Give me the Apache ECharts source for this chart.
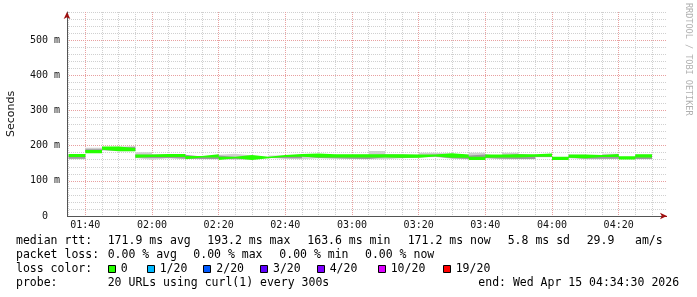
<!DOCTYPE html>
<html><head><meta charset="utf-8">
<script src="https://cdn.jsdelivr.net/npm/echarts@6/dist/echarts.min.js"></script>
<style>html,body{margin:0;padding:0;background:#fff}#c{width:697px;height:297px}</style>
</head><body><div id="c"></div>
<script>
// ---- data ----
const axisStart = '01:34:30';
const axisEnd = '04:34:30';
const firstInterval = '01:35:00';
const stepSeconds = 300;
const xTickLabels = ['01:40','02:00','02:20','02:40','03:00','03:20','03:40','04:00','04:20'];
const yTickLabels = ['0\u00a0\u00a0','100 m','200 m','300 m','400 m','500 m'];
const medianRtt = [172,183,193.2,189,170,172,172,166,171,164,169,163.6,169,172,173,171,171,171,171,171,170,170,174,170,164,170,171,171,173,164,170,169,172,165,171.2];
const smokeLo  = [161,180,186,184,165,160,164,163,161,161,161,161,165,163,161,164,163,162,161,161,164,166,168,163,161,164,161,161,167,161,164,161,161,163,161];
const smokeHi  = [176,194,197,199,181,175,175,169,174,177,172,166,172,175,175,174,174,175,185,175,174,180,177,174,180,172,180,174,177,167,174,171,177,167,174];
const coreLo   = [163,182,188,186,166,165,165,163,162,162,161,161,166,164,170,165,164,163,162,167,165,167,169,164,162,165,163,162,168,161,166,163,163,163,162];
const coreHi   = [172,190,194,196,174,174,174,169,172,168,170,166,170,173,174,173,172,173,175,174,173,175,176,172,175,171,176,173,176,167,173,170,175,167,173];
const lossLabels = ['0','1/20','2/20','3/20','4/20','10/20','19/20'];
const lossColors = ['#26ff00','#00b8ff','#0059ff','#5e00ff','#7e00ff','#dd00ff','#ff0000'];
const medianLine = ['median rtt:','171.9 ms avg','193.2 ms max','163.6 ms min','171.2 ms now','5.8 ms sd','29.9','am/s'];
const lossLine = ['packet loss:','0.00 % avg','0.00 % max','0.00 % min','0.00 % now'];
const probeLine = ['probe:','20 URLs using curl(1) every 300s'];
const endLabel = 'end: Wed Apr 15 04:34:30 2026';
const watermark = 'RRDTOOL / TOBI OETIKER';

// ---- helpers ----
const toSec = s => { const p = String(s).split(':').map(Number); return p[0]*3600 + p[1]*60 + (p[2]||0); };
const pad = n => String(n).padStart(2,'0');
const fmt = s => pad(Math.floor(s/3600)) + ':' + pad(Math.floor(s/60)%60) + ':' + pad(s%60);
const startSec = toSec(axisStart), endSec = toSec(axisEnd), firstSec = toSec(firstInterval);
const SLOT = 30;
const cats = [];
for (let s = startSec; s <= endSec; s += SLOT) cats.push(fmt(s));
const lastCat = cats.length - 1;
function stepData(vals) {
  const pts = vals.map((v, k) => [Math.max(0, (firstSec + k*stepSeconds - startSec)/SLOT), v]);
  pts.push([(firstSec + vals.length*stepSeconds - startSec)/SLOT, vals[vals.length-1]]);
  return pts;
}
const diff = (a, b) => a.map((v, i) => v - b[i]);
const BAND_HALF = 4.6; // half thickness of the median band (style)
const medLo = medianRtt.map(v => v - BAND_HALF);
const medW = medianRtt.map(() => 2*BAND_HALF);

const mono = '"DejaVu Sans Mono", monospace';
function band(stack, vals, color) {
  return {type:'line', stack, step:'end', symbol:'none', silent:true, data: stepData(vals),
    lineStyle:{width:0, opacity:0}, areaStyle: color ? {color, opacity:1} : undefined, z: 2};
}
const catSec = (i) => startSec + i*SLOT;
const is5 = (i, v) => catSec(i) % 300 === 0 && catSec(i) % 1200 !== 0;
const is20 = (i, v) => catSec(i) % 1200 === 0;

const chart = echarts.init(document.getElementById('c'), null, {renderer:'canvas'});
const graphics = [];
const TXT = {font:'11.5px '+mono, fill:'#000', verticalAlign:'middle', textVerticalAlign:'middle'};
const col1 = [16,107.7,207.3,307.3,407.7,507.7,586.7,635];
medianLine.forEach((t,i)=>graphics.push({type:'text', x:col1[i], y:241, style:Object.assign({text:t}, TXT)}));
const col2 = [16,107.7,193.3,279.3,365];
lossLine.forEach((t,i)=>graphics.push({type:'text', x:col2[i], y:255.5, style:Object.assign({text:t}, TXT)}));
graphics.push({type:'text', x:16, y:269, style:Object.assign({text:'loss color:'}, TXT)});
const boxX = [107.7,146.7,203.3,260,316.7,377.7,442.7];
lossLabels.forEach((t,i)=>{
  graphics.push({type:'rect', shape:{x:Math.round(boxX[i])+0.5, y:265.5, width:7, height:7}, style:{fill:lossColors[i], stroke:'#000', lineWidth:1}});
  graphics.push({type:'text', x:boxX[i]+13, y:269, style:Object.assign({text:t}, TXT)});
});
graphics.push({type:'text', x:16, y:283.3, style:Object.assign({text:probeLine[0]}, TXT)});
graphics.push({type:'text', x:107.7, y:283.3, style:Object.assign({text:probeLine[1]}, TXT)});
graphics.push({type:'text', x:478.3, y:283.3, style:Object.assign({text:endLabel}, TXT)});
graphics.push({type:'text', x:688.5, y:3, rotation:-Math.PI/2, style:{text:watermark, font:'8.5px '+mono, fill:'#b0b0b0', verticalAlign:'middle', textVerticalAlign:'middle'}});

chart.setOption({
  animation:false,
  backgroundColor:'#fff',
  grid:{left:67, right:30, top:12, bottom:81, containLabel:false, outerBoundsMode:'none'},
  xAxis:[
    {type:'category', data:cats, boundaryGap:false, position:'bottom',
     axisLine:{show:false},
     axisTick:{show:false},
     axisLabel:{interval:is20, margin:4, color:'#111', fontFamily:'DejaVu Sans Mono', fontSize:10,
       formatter: v => { const h = String(v).slice(0,5); return xTickLabels.includes(h) ? h : ''; }},
     splitLine:{show:true, interval:is5, lineStyle:{color:'#d0d0d0', type:[1,1], width:1}}},
    {type:'category', data:cats, boundaryGap:false, position:'bottom',
     axisLine:{show:false}, axisTick:{show:false}, axisLabel:{show:false},
     splitLine:{show:true, interval:is20, lineStyle:{color:'#e8a0a0', type:[1,1], width:1}}}
  ],
  yAxis:[
    {type:'value', min:0, max:580, interval:20, position:'left',
     name:'Seconds', nameLocation:'middle', nameGap:50,
     nameTextStyle:{fontFamily:'DejaVu Sans', fontSize:11, color:'#111'},
     axisLine:{show:true, lineStyle:{color:'#555', width:1}},
     axisTick:{show:false},
     axisLabel:{margin:7, color:'#111', fontFamily:'DejaVu Sans Mono', fontSize:10,
       formatter: v => (v % 100 === 0 && yTickLabels[v/100] !== undefined) ? yTickLabels[v/100] : ''},
     splitLine:{show:true, lineStyle:{color:['#e8a0a0','#d0d0d0','#d0d0d0','#d0d0d0','#d0d0d0'], type:[1,1], width:1}}},
    {type:'value', min:0, max:580, interval:20, position:'left', offset:0,
     axisLine:{show:true, symbol:['none','arrow'], symbolSize:[5,7], lineStyle:{color:'#a01010', width:0}},
     axisTick:{show:false}, axisLabel:{show:false}, splitLine:{show:false}}
  ],
  series:[
    band('smoke', smokeLo, null),
    band('smoke', diff(smokeHi, smokeLo), '#cfcfcf'),
    band('core', coreLo, null),
    band('core', diff(coreHi, coreLo), '#9a9a9a'),
    band('med', medLo, null),
    band('med', medW, '#26ff00'),
    {type:'line', data:[], silent:true, z:5,
     markLine:{silent:true, animation:false, symbol:['none','none'], label:{show:false},
       lineStyle:{color:'#555', width:1, type:'solid'},
       data:[[{coord:[0,0]},{coord:[lastCat,0]}]]}},
    {type:'line', data:[], silent:true, z:6,
     markLine:{silent:true, animation:false, symbol:['none','arrow'], symbolSize:[5,7], label:{show:false},
       lineStyle:{color:'#a01010', width:1, type:'solid'},
       data:[[{coord:[lastCat-2,0]},{coord:[lastCat,0]}]]}}
  ],
  graphic: graphics
});
</script></body></html>
